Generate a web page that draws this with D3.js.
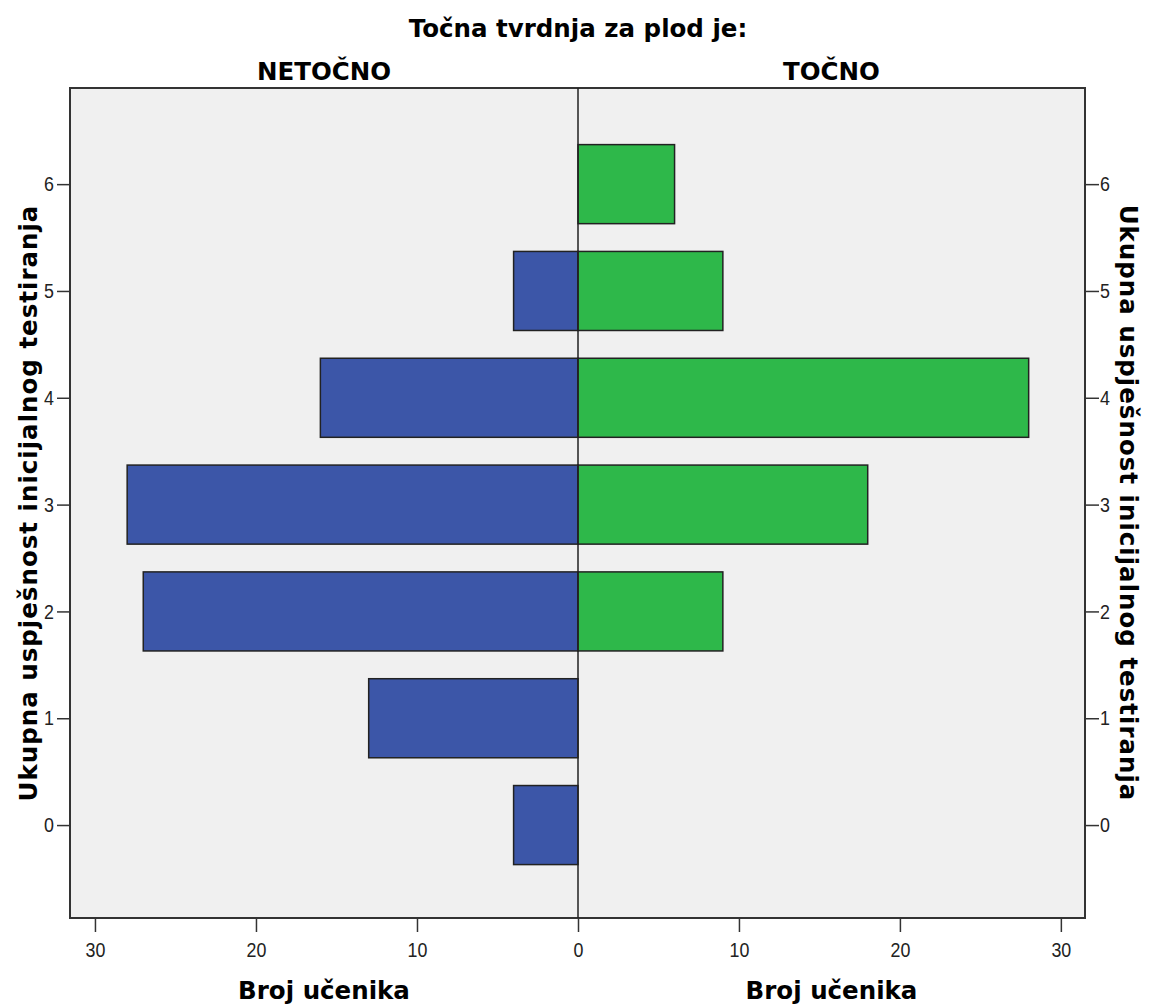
<!DOCTYPE html>
<html><head><meta charset="utf-8">
<script src="https://cdn.jsdelivr.net/npm/d3@7"></script>
<style>body{margin:0;background:#fff}</style>
</head><body>
<script>
const categories = [0, 1, 2, 3, 4, 5, 6];
const netocno = [4, 13, 27, 28, 16, 4, 0];
const tocno = [0, 0, 9, 18, 28, 9, 6];
const panelLabels = ["NETOČNO", "TOČNO"];
const xTicks = [0, 10, 20, 30];
const yTicks = [0, 1, 2, 3, 4, 5, 6];
const title = "Točna tvrdnja za plod je:";
const xTitle = "Broj učenika";
const yTitle = "Ukupna uspješnost inicijalnog testiranja";

const W = 1149, H = 1006;
const L = 70, R = 1085, T = 88, B = 918, C = 578;
const svg = d3.select("body").append("svg").attr("width", W).attr("height", H);

const y = d3.scaleLinear().domain([-0.87, 6.9]).range([B, T]);
const xL = d3.scaleLinear().domain([0, 31.55]).range([C, L]);
const xR = d3.scaleLinear().domain([0, 31.5]).range([C, R]);
const barH = y(0) - y(0.74);

svg.append("rect").attr("x", L).attr("y", T).attr("width", R - L).attr("height", B - T)
  .attr("fill", "#f0f0f0");

const data = categories.map((c, i) => ({c, n: netocno[i], t: tocno[i]}));
svg.selectAll(".bl").data(data.filter(d => d.n > 0)).enter().append("rect")
  .attr("x", d => xL(d.n)).attr("y", d => y(d.c) - barH / 2)
  .attr("width", d => xL(0) - xL(d.n)).attr("height", barH)
  .attr("fill", "#3c56a8").attr("stroke", "#222").attr("stroke-width", 1.5);
svg.selectAll(".br").data(data.filter(d => d.t > 0)).enter().append("rect")
  .attr("x", xR(0)).attr("y", d => y(d.c) - barH / 2)
  .attr("width", d => xR(d.t) - xR(0)).attr("height", barH)
  .attr("fill", "#2eb84a").attr("stroke", "#222").attr("stroke-width", 1.5);

svg.append("rect").attr("x", L).attr("y", T).attr("width", R - L).attr("height", B - T)
  .attr("fill", "none").attr("stroke", "#333").attr("stroke-width", 2);
svg.append("line").attr("x1", C).attr("x2", C).attr("y1", T).attr("y2", B)
  .attr("stroke", "#222").attr("stroke-width", 1.5);

const SX = 0.85;
function styleAxis(g) {
  g.select(".domain").remove();
  g.selectAll(".tick line").attr("stroke", "#333").attr("stroke-width", 1.5);
  g.selectAll(".tick text").attr("fill", "#222")
    .style("font-family", "'Liberation Sans', Arial, sans-serif").style("font-size", "21px")
    .attr("x", function() { return (+this.getAttribute("x") || 0) / SX; })
    .attr("transform", `scale(${SX},1)`);
}
svg.append("g").attr("transform", `translate(0,${B})`)
  .call(d3.axisBottom(xL).tickValues(xTicks).tickSize(14).tickPadding(10)).call(styleAxis);
svg.append("g").attr("transform", `translate(0,${B})`)
  .call(d3.axisBottom(xR).tickValues(xTicks.filter(v => v > 0)).tickSize(14).tickPadding(10)).call(styleAxis);
svg.append("g").attr("transform", `translate(${L},0)`)
  .call(d3.axisLeft(y).tickValues(yTicks).tickFormat(d3.format("d")).tickSize(13).tickPadding(3)).call(styleAxis);
svg.append("g").attr("transform", `translate(${R},0)`)
  .call(d3.axisRight(y).tickValues(yTicks).tickFormat(d3.format("d")).tickSize(14).tickPadding(1)).call(styleAxis);

const bold = sel => sel.style("font-family", "'DejaVu Sans', sans-serif").style("font-weight", "bold").attr("fill", "#000").attr("text-anchor", "middle").style("font-size", "24.5px");
svg.append("text").attr("x", 578).attr("y", 37).text(title).call(bold);
svg.append("text").attr("x", (L + C) / 2).attr("y", 80).text(panelLabels[0]).call(bold);
svg.append("text").attr("x", (C + R) / 2).attr("y", 80).text(panelLabels[1]).call(bold);
svg.append("text").attr("x", (L + C) / 2).attr("y", 999).text(xTitle).call(bold);
svg.append("text").attr("x", (C + R) / 2).attr("y", 999).text(xTitle).call(bold);
svg.append("text").attr("transform", `translate(37,503) rotate(-90)`).text(yTitle).call(bold).style("letter-spacing", "1px");
svg.append("text").attr("transform", `translate(1120,503) rotate(90)`).text(yTitle).call(bold).style("letter-spacing", "1px");
</script>
</body></html>
